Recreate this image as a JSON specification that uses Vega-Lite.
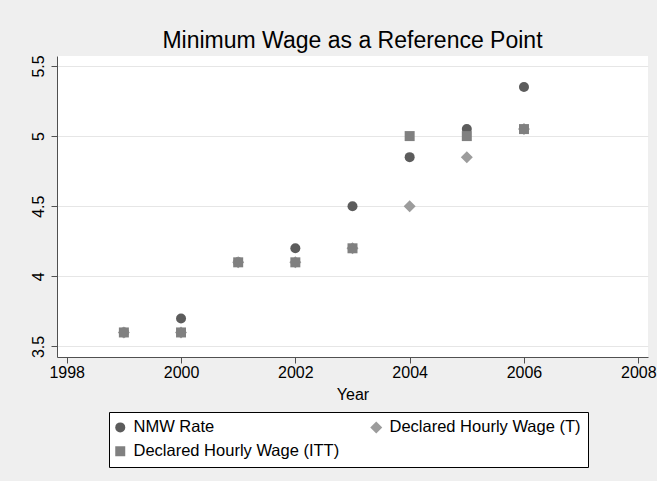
{
  "$schema": "https://vega.github.io/schema/vega-lite/v6.json",
  "width": 591,
  "height": 301,
  "autosize": {"type": "none"},
  "padding": {"left": 57, "top": 56, "right": 9, "bottom": 124},
  "background": "#efefef",
  "title": {
    "text": "Minimum Wage as a Reference Point",
    "fontSize": 23,
    "font": "Liberation Sans",
    "fontWeight": "normal",
    "color": "#000000",
    "anchor": "middle",
    "frame": "group",
    "baseline": "alphabetic",
    "offset": 6,
    "dy": 22
  },
  "config": {
    "view": {"fill": "#ffffff", "stroke": null},
    "axis": {
      "labelFont": "Liberation Sans",
      "titleFont": "Liberation Sans",
      "labelFontSize": 16,
      "titleFontSize": 16,
      "labelColor": "#000000",
      "titleColor": "#000000",
      "titleFontWeight": "normal",
      "domainColor": "#505050",
      "tickColor": "#505050",
      "tickSize": 6,
      "domainWidth": 1,
      "tickWidth": 1
    }
  },
  "data": {
    "values": [
      {"year": 1999, "wage": 3.6, "series": "NMW Rate"},
      {"year": 2000, "wage": 3.7, "series": "NMW Rate"},
      {"year": 2001, "wage": 4.1, "series": "NMW Rate"},
      {"year": 2002, "wage": 4.2, "series": "NMW Rate"},
      {"year": 2003, "wage": 4.5, "series": "NMW Rate"},
      {"year": 2004, "wage": 4.85, "series": "NMW Rate"},
      {"year": 2005, "wage": 5.05, "series": "NMW Rate"},
      {"year": 2006, "wage": 5.35, "series": "NMW Rate"},
      {"year": 1999, "wage": 3.6, "series": "Declared Hourly Wage (T)"},
      {"year": 2000, "wage": 3.6, "series": "Declared Hourly Wage (T)"},
      {"year": 2001, "wage": 4.1, "series": "Declared Hourly Wage (T)"},
      {"year": 2002, "wage": 4.1, "series": "Declared Hourly Wage (T)"},
      {"year": 2003, "wage": 4.2, "series": "Declared Hourly Wage (T)"},
      {"year": 2004, "wage": 4.5, "series": "Declared Hourly Wage (T)"},
      {"year": 2005, "wage": 4.85, "series": "Declared Hourly Wage (T)"},
      {"year": 2006, "wage": 5.05, "series": "Declared Hourly Wage (T)"},
      {"year": 1999, "wage": 3.6, "series": "Declared Hourly Wage (ITT)"},
      {"year": 2000, "wage": 3.6, "series": "Declared Hourly Wage (ITT)"},
      {"year": 2001, "wage": 4.1, "series": "Declared Hourly Wage (ITT)"},
      {"year": 2002, "wage": 4.1, "series": "Declared Hourly Wage (ITT)"},
      {"year": 2003, "wage": 4.2, "series": "Declared Hourly Wage (ITT)"},
      {"year": 2004, "wage": 5.0, "series": "Declared Hourly Wage (ITT)"},
      {"year": 2005, "wage": 5.0, "series": "Declared Hourly Wage (ITT)"},
      {"year": 2006, "wage": 5.05, "series": "Declared Hourly Wage (ITT)"}
    ]
  },
  "mark": {"type": "point", "filled": true, "opacity": 1},
  "encoding": {
    "x": {
      "field": "year",
      "type": "quantitative",
      "scale": {"domain": [1997.83, 2008.17], "nice": false, "zero": false},
      "axis": {
        "values": [1998, 2000, 2002, 2004, 2006, 2008],
        "format": "d",
        "grid": false,
        "title": "Year",
        "labelPadding": 1,
        "titlePadding": 6,
        "labelFlush": false
      }
    },
    "y": {
      "field": "wage",
      "type": "quantitative",
      "scale": {"domain": [3.425, 5.571], "nice": false, "zero": false},
      "axis": {
        "values": [3.5, 4, 4.5, 5, 5.5],
        "format": "~g",
        "title": null,
        "grid": true,
        "gridColor": "#e6e6e6",
        "gridWidth": 1,
        "labelAngle": 270,
        "labelPadding": 5,
        "labelFlush": false
      }
    },
    "color": {
      "field": "series",
      "type": "nominal",
      "scale": {
        "domain": ["NMW Rate", "Declared Hourly Wage (T)", "Declared Hourly Wage (ITT)"],
        "range": ["#5c5c5c", "#9c9c9c", "#808080"]
      },
      "legend": {
        "title": null,
        "orient": "none",
        "legendX": 52,
        "legendY": 356,
        "direction": "horizontal",
        "columns": 2,
        "gridAlign": "all",
        "columnPadding": 30,
        "rowPadding": 7,
        "padding": 7,
        "strokeColor": "#000000",
        "fillColor": "#ffffff",
        "cornerRadius": 0,
        "labelFont": "Liberation Sans",
        "labelFontSize": 16.5,
        "labelColor": "#000000",
        "labelOffset": 5,
        "symbolOffset": -4,
        "symbolSize": 50,
        "symbolStrokeWidth": 0,
        "labelLimit": 400,
        "encode": {"symbols": {"update": {"size": {"value": 50}, "strokeWidth": {"value": 0}}}}
      }
    },
    "shape": {
      "field": "series",
      "type": "nominal",
      "scale": {
        "domain": ["NMW Rate", "Declared Hourly Wage (T)", "Declared Hourly Wage (ITT)"],
        "range": ["circle", "diamond", "square"]
      }
    },
    "size": {
      "field": "series",
      "type": "nominal",
      "scale": {
        "type": "ordinal",
        "domain": ["NMW Rate", "Declared Hourly Wage (T)", "Declared Hourly Wage (ITT)"],
        "range": [100, 144, 100]
      },
      "legend": null
    }
  }
}
